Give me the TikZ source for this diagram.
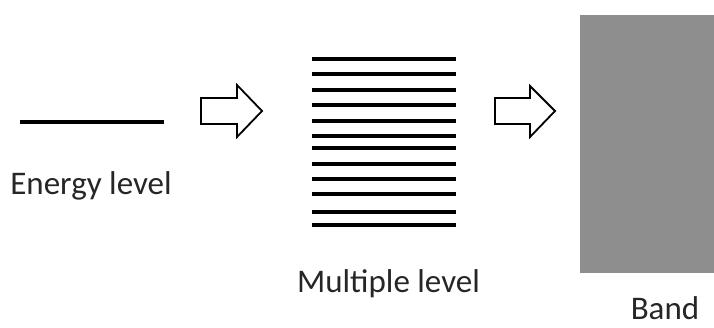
\documentclass[tikz,border=0pt]{standalone}
\usepackage{fontspec}
\setmainfont{Carlito}
\definecolor{bandgray}{RGB}{142,142,142}
\definecolor{textgray}{RGB}{38,38,38}
\begin{document}
\begin{tikzpicture}[x=1pt,y=-1pt,line join=miter]
	\tikzset{level line/.style={line width=4pt},
		fat arrow/.style={draw,line width=1.8pt,fill=white},
		label style/.style={font=\fontsize{33}{38}\selectfont,text=textgray,inner sep=0pt,anchor=base}}
	\useasboundingbox (0,0) rectangle (714,327);
	%% one level
	\draw[level line] (20,122)--(164,122);
	\node[label style] (single) at (91,194) {Energy level};
	%% arrows
	\draw[fat arrow] (201,98)--(237,98)--(237,85)--(262,111)--(237,137)--(237,124)--(201,124)--cycle;
	\draw[fat arrow] (495,98)--(530,98)--(530,86)--(555,111)--(530,137)--(530,124)--(495,124)--cycle;
	%% many levels
	\foreach \y in {58.5,73.5,89.5,104.5,120.5,135.5,148,163.5,179,194,211.5,225}
		\draw[level line] (312,\y)--(456,\y);
	\node[label style] (multi) at (388.5,292) {Multiple level};
	%% band
	\fill[bandgray] (580,15) rectangle (714,273);
	\node[label style] (band) at (665,319) {Band};
\end{tikzpicture}
\end{document}
